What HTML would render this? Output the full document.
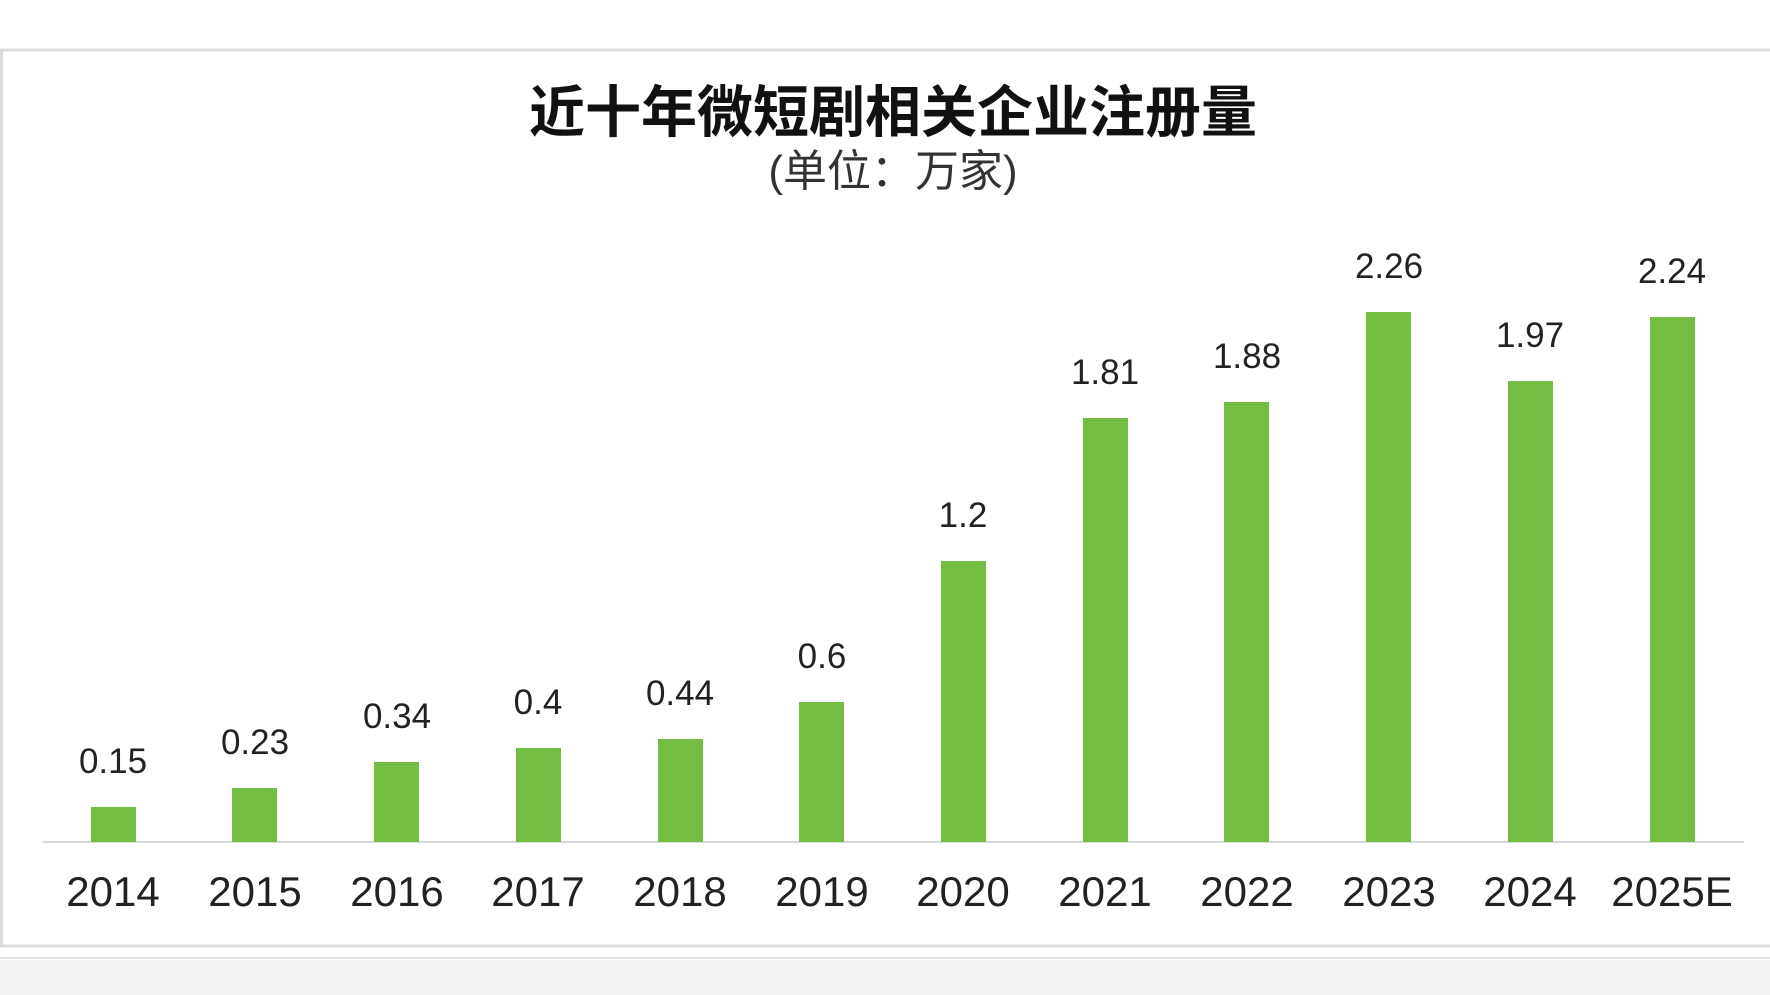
<!DOCTYPE html>
<html><head><meta charset="utf-8"><style>
html,body{margin:0;padding:0;background:#fff}
body{width:1770px;height:995px;overflow:hidden;position:relative}
</style></head><body>
<svg width="1770" height="995" xmlns="http://www.w3.org/2000/svg" style="position:absolute;left:0;top:0">
<rect x="0" y="0" width="1770" height="995" fill="#fff"/>
<rect x="0" y="960" width="1770" height="35" fill="#f3f3f3"/>
<line x1="0" y1="958" x2="1770" y2="958" stroke="#e2e2e2" stroke-width="2"/>
<rect x="1.5" y="50" width="1780" height="896" fill="#fff" stroke="#dcdcdc" stroke-width="3"/>
<text x="893" y="132" text-anchor="middle" font-family="'Liberation Sans','Noto Sans CJK SC',sans-serif" font-weight="bold" font-size="56" fill="#111">近十年微短剧相关企业注册量</text>
<text x="893" y="186" text-anchor="middle" font-family="'Liberation Sans','Noto Sans CJK SC',sans-serif" font-size="44" fill="#333">(单位：万家)</text>
<line x1="43" y1="842" x2="1744" y2="842" stroke="#d9d9d9" stroke-width="2"/>
<g font-family="'Liberation Sans',sans-serif" fill="#222" text-anchor="middle">
<rect x="91" y="807" width="45" height="35" fill="#72bd42"/>
<rect x="232" y="788" width="45" height="54" fill="#72bd42"/>
<rect x="374" y="762" width="45" height="80" fill="#72bd42"/>
<rect x="516" y="748" width="45" height="94" fill="#72bd42"/>
<rect x="658" y="739" width="45" height="103" fill="#72bd42"/>
<rect x="799" y="702" width="45" height="140" fill="#72bd42"/>
<rect x="941" y="561" width="45" height="281" fill="#72bd42"/>
<rect x="1083" y="418" width="45" height="424" fill="#72bd42"/>
<rect x="1224" y="402" width="45" height="440" fill="#72bd42"/>
<rect x="1366" y="312" width="45" height="530" fill="#72bd42"/>
<rect x="1508" y="381" width="45" height="461" fill="#72bd42"/>
<rect x="1650" y="317" width="45" height="525" fill="#72bd42"/>
<g font-size="35">
<text x="113" y="773">0.15</text>
<text x="255" y="754">0.23</text>
<text x="397" y="728">0.34</text>
<text x="538" y="714">0.4</text>
<text x="680" y="705">0.44</text>
<text x="822" y="668">0.6</text>
<text x="963" y="527">1.2</text>
<text x="1105" y="384">1.81</text>
<text x="1247" y="368">1.88</text>
<text x="1389" y="278">2.26</text>
<text x="1530" y="347">1.97</text>
<text x="1672" y="283">2.24</text>
</g>
<g font-size="42">
<text x="113" y="906">2014</text>
<text x="255" y="906">2015</text>
<text x="397" y="906">2016</text>
<text x="538" y="906">2017</text>
<text x="680" y="906">2018</text>
<text x="822" y="906">2019</text>
<text x="963" y="906">2020</text>
<text x="1105" y="906">2021</text>
<text x="1247" y="906">2022</text>
<text x="1389" y="906">2023</text>
<text x="1530" y="906">2024</text>
<text x="1672" y="906">2025E</text>
</g>
</g>
</svg>
</body></html>
